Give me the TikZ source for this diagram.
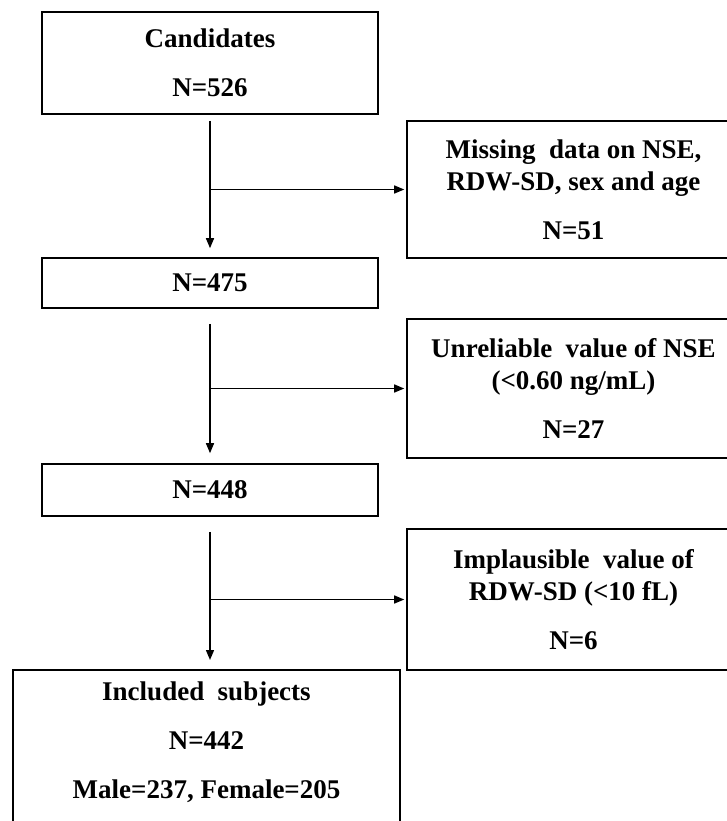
\documentclass[tikz,border=0pt]{standalone}
\usepackage{fontspec}
\setmainfont{Liberation Serif}
\usetikzlibrary{arrows.meta, positioning}

\begin{document}
\begin{tikzpicture}[x=1pt, y=-1pt, >={Triangle[length=10pt, width=8pt]},
    box/.style={draw, line width=1.6pt, align=center, inner sep=4pt,
                font=\fontsize{27}{32}\selectfont\bfseries},
    flow/.style={->, line width=1.4pt}]
    \useasboundingbox (0,0) rectangle (727,821);

    % Main column
    \node[box, minimum width=336pt, minimum height=102pt] (cand) at (210, 63) {Candidates\\[17pt]N=526};
    \node[box, minimum width=336pt, minimum height=50pt] (n475) at (210, 283) {N=475};
    \node[box, minimum width=336pt, minimum height=52pt] (n448) at (210, 490) {N=448};
    \node[box, minimum width=387pt, minimum height=183pt, anchor=north] (incl) at (206.5, 669)
        {Included\ \ subjects\\[17pt]N=442\\[17pt]Male=237, Female=205\\\strut};

    % Exclusions
    \node[box, minimum width=333pt, minimum height=137pt] (miss) at (573.5, 189.5)
        {Missing\ \ data on NSE,\\RDW-SD, sex and age\\[17pt]N=51};
    \node[box, minimum width=333pt, minimum height=139pt] (unrel) at (573.5, 388.5)
        {Unreliable\ \ value of NSE\\(<0.60 ng/mL)\\[17pt]N=27};
    \node[box, minimum width=333pt, minimum height=141pt] (impl) at (573.5, 599.5)
        {Implausible\ \ value of\\RDW-SD (<10 fL)\\[17pt]N=6};

    % Flow down
    \draw[flow, shorten <=6pt, shorten >=9pt] (cand.south) -- (n475.north);
    \draw[flow, shorten <=15pt, shorten >=10pt] (n475.south) -- (n448.north);
    \draw[flow, shorten <=15pt, shorten >=9pt] (n448.south) -- (n448.south |- incl.north);

    % Branches to exclusions
    \draw[flow, shorten >=2pt] (cand.south |- miss.west) -- (miss.west);
    \draw[flow, shorten >=2pt] (n475.south |- unrel.west) -- (unrel.west);
    \draw[flow, shorten >=2pt] (n448.south |- impl.west) -- (impl.west);
\end{tikzpicture}
\end{document}
